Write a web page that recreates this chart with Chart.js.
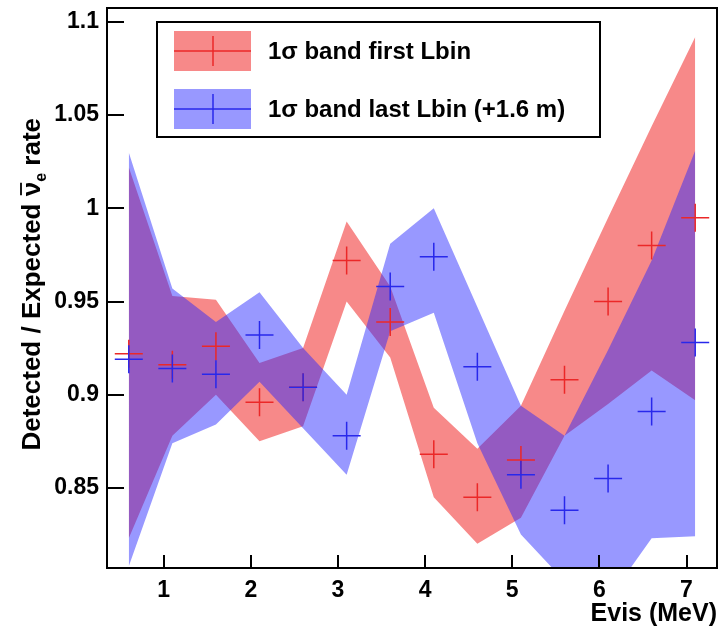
<!DOCTYPE html>
<html><head><meta charset="utf-8">
<script src="https://cdn.jsdelivr.net/npm/chart.js@4.4.1/dist/chart.umd.min.js"></script>
<style>html,body{margin:0;padding:0;background:#fff;}#wrap{width:720px;height:630px;}</style>
</head><body><div id="wrap"><canvas id="c" width="720" height="630"></canvas></div>
<script>
// ---- data ----
const energies = [0.6, 1.1, 1.6, 2.1, 2.6, 3.1, 3.6, 4.1, 4.6, 5.1, 5.6, 6.1, 6.6, 7.1];
const redCentral = [0.922, 0.916, 0.926, 0.896, 0.904, 0.972, 0.939, 0.868, 0.845, 0.865, 0.908, 0.950, 0.980, 0.995];
const redLower   = [0.823, 0.878, 0.900, 0.875, 0.883, 0.950, 0.920, 0.845, 0.820, 0.834, 0.878, 0.895, 0.913, 0.897];
const redUpper   = [1.022, 0.953, 0.951, 0.917, 0.925, 0.993, 0.958, 0.893, 0.871, 0.894, 0.945, 0.995, 1.044, 1.092];
const blueCentral = [0.919, 0.914, 0.911, 0.932, 0.904, 0.878, 0.958, 0.974, 0.915, 0.857, 0.838, 0.855, 0.891, 0.928];
const blueLower   = [0.808, 0.874, 0.884, 0.907, 0.882, 0.857, 0.934, 0.944, 0.874, 0.825, 0.800, 0.790, 0.823, 0.824];
const blueUpper   = [1.030, 0.957, 0.939, 0.955, 0.925, 0.900, 0.981, 1.000, 0.947, 0.894, 0.878, 0.924, 0.972, 1.031];
const xTicks = [1, 2, 3, 4, 5, 6, 7];
const yTicks = [0.85, 0.9, 0.95, 1, 1.05, 1.1];
const yTickLabels = ['0.85', '0.9', '0.95', '1', '1.05', '1.1'];
const seriesLabels = ['1\u03c3 band first Lbin', '1\u03c3 band last Lbin (+1.6 m)'];
const xTitle = 'Evis (MeV)';

// ---- styles ----
const FONT = '"Liberation Sans", Arial, Helvetica, sans-serif';
const redFill = 'rgba(240,40,40,0.55)';
const blueFill = 'rgba(40,40,255,0.48)';
const redLine = 'rgb(235,40,40)';
const blueLine = 'rgb(40,40,235)';

const pts = (ys) => energies.map((x, i) => ({x: x, y: ys[i]}));
const noPad = (s) => { s.paddingLeft = 0; s.paddingRight = 0; s.paddingTop = 0; s.paddingBottom = 0; };

const decor = {
  id: 'decor',
  afterDraw(chart) {
    const ctx = chart.ctx, a = chart.chartArea;
    const xs = chart.scales.x, ys = chart.scales.y;
    ctx.save();
    ctx.strokeStyle = '#000';
    ctx.lineWidth = 2;
    // inward ticks
    ctx.beginPath();
    yTicks.forEach(v => { const y = Math.round(ys.getPixelForValue(v)); ctx.moveTo(a.left, y); ctx.lineTo(a.left + 17, y); });
    xTicks.forEach(v => { const x = Math.round(xs.getPixelForValue(v)); ctx.moveTo(x, a.bottom); ctx.lineTo(x, a.bottom - 13); });
    ctx.stroke();
    // frame
    ctx.strokeRect(a.left, a.top, a.right - a.left, a.bottom - a.top);

    // legend
    const lx = 157, ly = 22, lw = 443, lh = 115;
    ctx.fillStyle = '#fff';
    ctx.fillRect(lx, ly, lw, lh);
    ctx.strokeRect(lx, ly, lw, lh);
    const entries = [[redFill, redLine, 51], [blueFill, blueLine, 109]];
    entries.forEach((e, i) => {
      ctx.fillStyle = e[0];
      ctx.fillRect(174, e[2] - 20, 77, 40);
      ctx.strokeStyle = e[1];
      ctx.lineWidth = 1.5;
      ctx.beginPath();
      ctx.moveTo(174, e[2]); ctx.lineTo(251, e[2]);
      ctx.moveTo(213, e[2] - 15); ctx.lineTo(213, e[2] + 15);
      ctx.stroke();
      ctx.fillStyle = '#000';
      ctx.font = 'bold 24px ' + FONT;
      ctx.textAlign = 'left';
      ctx.textBaseline = 'middle';
      ctx.fillText(seriesLabels[i], 268, e[2] + 1);
    });

    // y title with nu-bar and subscript e
    const parts = [
      {t: 'Detected / Expected ', f: 'bold 26px ' + FONT, dy: 0},
      {t: '\u03bd', f: 'bold 26px ' + FONT, dy: 0, bar: true},
      {t: 'e', f: 'bold 16px ' + FONT, dy: 6},
      {t: ' rate', f: 'bold 26px ' + FONT, dy: 0}
    ];
    let total = 0;
    parts.forEach(p => { ctx.font = p.f; p.w = ctx.measureText(p.t).width; total += p.w; });
    ctx.translate(40, 118 + total);
    ctx.rotate(-Math.PI / 2);
    ctx.fillStyle = '#000';
    ctx.textAlign = 'left';
    ctx.textBaseline = 'alphabetic';
    let cx = 0;
    parts.forEach(p => {
      ctx.font = p.f;
      ctx.fillText(p.t, cx, p.dy);
      if (p.bar) {
        ctx.strokeStyle = '#000'; ctx.lineWidth = 1.8;
        ctx.beginPath(); ctx.moveTo(cx + 1, -19); ctx.lineTo(cx + p.w - 1, -19); ctx.stroke();
      }
      cx += p.w;
    });
    ctx.restore();
  }
};

new Chart(document.getElementById('c'), {
  type: 'line',
  data: {
    datasets: [
      {label: 'redLo', data: pts(redLower), borderColor: 'transparent', borderWidth: 0, pointRadius: 0, fill: false, order: 3, tension: 0},
      {label: seriesLabels[0], data: pts(redUpper), borderColor: 'transparent', borderWidth: 0, pointRadius: 0, fill: '-1', backgroundColor: redFill, order: 3, tension: 0},
      {label: 'blueLo', data: pts(blueLower), borderColor: 'transparent', borderWidth: 0, pointRadius: 0, fill: false, order: 2, tension: 0},
      {label: seriesLabels[1], data: pts(blueUpper), borderColor: 'transparent', borderWidth: 0, pointRadius: 0, fill: '-1', backgroundColor: blueFill, order: 2, tension: 0},
      {type: 'scatter', label: 'redPts', data: pts(redCentral), showLine: false, pointStyle: 'cross', pointRadius: 14, pointBorderWidth: 1.5, borderColor: redLine, backgroundColor: redLine, order: 1},
      {type: 'scatter', label: 'bluePts', data: pts(blueCentral), showLine: false, pointStyle: 'cross', pointRadius: 14, pointBorderWidth: 1.5, borderColor: blueLine, backgroundColor: blueLine, order: 0}
    ]
  },
  options: {
    responsive: false,
    animation: false,
    devicePixelRatio: 1,
    events: [],
    layout: {autoPadding: false, padding: {left: 0, right: 3, top: 8, bottom: 0}},
    plugins: {legend: {display: false}, tooltip: {enabled: false}},
    scales: {
      x: {
        type: 'linear', min: 0.35, max: 7.35,
        afterBuildTicks: s => { s.ticks = xTicks.map(v => ({value: v})); },
        afterFit: s => { s.height = 62; noPad(s); },
        grid: {display: false, drawTicks: false},
        border: {display: false},
        ticks: {color: '#000', font: {family: FONT, size: 23, weight: 'bold'}, padding: 9, maxRotation: 0, autoSkip: false, callback: v => String(v)},
        title: {display: true, text: xTitle, align: 'end', color: '#000', font: {family: FONT, size: 25, weight: 'bold'}, padding: {top: 0, bottom: 1}}
      },
      y: {
        type: 'linear', min: 0.807, max: 1.1075,
        afterBuildTicks: s => { s.ticks = yTicks.map(v => ({value: v})); },
        afterFit: s => { s.width = 107; noPad(s); },
        grid: {display: false, drawTicks: false},
        border: {display: false},
        ticks: {color: '#000', font: {family: FONT, size: 23, weight: 'bold'}, padding: 8, autoSkip: false, callback: v => yTickLabels[yTicks.indexOf(v)]}
      }
    }
  },
  plugins: [decor]
});
</script></body></html>
